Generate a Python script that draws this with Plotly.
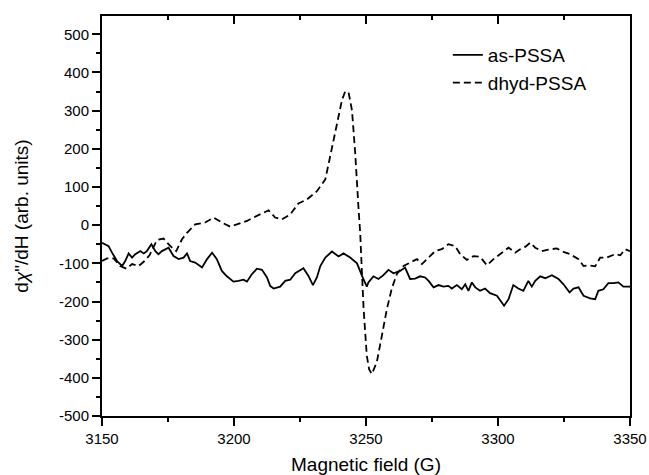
import plotly.graph_objects as go

# Data
as_field = [3150, 3152.5, 3153.8, 3155.7, 3157.6, 3158.8, 3160.1, 3161.4, 3162.6, 3164.5, 3165.8, 3167,
            3168.7, 3170.2, 3171.4, 3172.7, 3175.2, 3177.1, 3179, 3180.9, 3182.2, 3183.4, 3185.3, 3187.9,
            3189.8, 3191.7, 3193.5, 3195.4, 3197.3, 3199.8, 3201.7, 3203.6, 3204.9, 3206.8, 3208.7, 3210.6,
            3212.5, 3213.7, 3215, 3217.5, 3219.4, 3221.3, 3223.2, 3226.3, 3228.2, 3229.9, 3231.4, 3232.7,
            3234.6, 3237.1, 3239.6, 3241.5, 3244, 3246.6, 3248.5, 3250.3, 3250.9, 3252.8, 3254.7, 3256.6,
            3258.5, 3260.4, 3262.9, 3264.8, 3266.7, 3268.6, 3270.5, 3272.4, 3273.7, 3275.6, 3277.5, 3279.3,
            3281.2, 3282.5, 3284.4, 3286.3, 3287.6, 3288.8, 3290.1, 3291.4, 3293.2, 3295.1, 3297, 3299.6,
            3302.3, 3304, 3305.8, 3307.7, 3309.6, 3311.5, 3312.8, 3314.1, 3316, 3317.9, 3320.4, 3322.9,
            3324.8, 3327.1, 3328.6, 3330.5, 3332.4, 3334.9, 3336.8, 3338, 3339.9, 3341.8, 3343.7, 3345.6,
            3347.5, 3350]
as_signal = [-46, -55, -72, -94, -107, -94, -74, -85, -76, -68, -74, -68,
             -50, -68, -76, -68, -59, -81, -89, -85, -74, -94, -98, -111,
             -89, -72, -89, -120, -134, -148, -146, -143, -148, -128, -114, -117,
             -137, -159, -166, -161, -146, -143, -126, -113, -133, -157, -137, -107,
             -85, -69, -82, -74, -85, -100, -133, -161, -150, -134, -141, -131,
             -117, -126, -120, -111, -141, -140, -134, -137, -146, -163, -157, -161,
             -159, -166, -157, -168, -155, -172, -150, -163, -172, -166, -178, -185,
             -211, -194, -157, -166, -172, -146, -161, -146, -134, -139, -131, -141,
             -155, -176, -166, -163, -185, -192, -194, -172, -168, -152, -152, -150,
             -161, -161]

dhyd_field = [3150, 3151.9, 3154.4, 3156.9, 3159.2, 3161.4, 3163.9, 3165.8, 3168, 3170.8, 3173.3, 3175.9,
              3178.1, 3180.3, 3182.2, 3185.3, 3189.1, 3192.3, 3195.4, 3198.6, 3201.1, 3204.9, 3207.4, 3209.9,
              3213.1, 3215.6, 3218.1, 3221.3, 3224.4, 3227.6, 3231.4, 3234.6, 3236.4, 3239, 3240.9, 3242.1,
              3243.4, 3244.7, 3245.9, 3247.2, 3247.8, 3248.5, 3249.1, 3250.3, 3251.2, 3252.2, 3254.1, 3256,
              3257.9, 3259.8, 3261.7, 3264.2, 3266.7, 3269.3, 3271.2, 3273.1, 3276.2, 3278.7, 3281.2, 3283.8,
              3285.7, 3288.2, 3290.7, 3293.2, 3295.8, 3298.3, 3300.8, 3304, 3306.5, 3308.4, 3310.3, 3312.2,
              3314.1, 3316.6, 3319.1, 3322.3, 3324.8, 3327.3, 3330.5, 3332.4, 3334.2, 3336.8, 3338.7, 3341.2,
              3344.4, 3346.3, 3348.2, 3350]
dhyd_signal = [-94, -87, -87, -107, -114, -102, -107, -96, -79, -39, -35, -55,
               -68, -37, -20, 2, 7, 20, 7, -4, 2, 11, 20, 28,
               39, 20, 15, 28, 57, 67, 89, 120, 180, 259, 328, 350,
               348, 300, 190, 40, -20, -130, -220, -342, -378, -390, -359, -290,
               -220, -165, -128, -107, -98, -89, -102, -89, -68, -63, -50, -55,
               -76, -91, -81, -83, -105, -89, -76, -59, -72, -63, -57, -46,
               -59, -68, -64, -61, -70, -76, -89, -107, -105, -108, -85, -85,
               -76, -79, -63, -68]

x_ticks = [3150, 3200, 3250, 3300, 3350]
x_tick_labels = ["3150", "3200", "3250", "3300", "3350"]
y_ticks = [-500, -400, -300, -200, -100, 0, 100, 200, 300, 400, 500]
y_tick_labels = ["-500", "-400", "-300", "-200", "-100", "0", "100", "200", "300", "400", "500"]
x_range = [3150, 3350]
y_range = [-500, 548]

font = "Liberation Sans, Arial, sans-serif"

fig = go.Figure()
fig.add_trace(go.Scatter(x=as_field, y=as_signal, mode="lines", name="as-PSSA",
                         line=dict(color="black", width=1.8)))
fig.add_trace(go.Scatter(x=dhyd_field, y=dhyd_signal, mode="lines", name="dhyd-PSSA",
                         line=dict(color="black", width=1.8, dash="7px,4px")))
fig.add_trace(go.Scatter(x=[], y=[], xaxis="x2", showlegend=False, hoverinfo="skip"))

fig.update_layout(
    width=649, height=475,
    margin=dict(l=102, r=19, t=16, b=59, autoexpand=False),
    paper_bgcolor="white", plot_bgcolor="white",
    font=dict(family=font, color="black", size=15),
    showlegend=True,
    legend=dict(x=0.655, y=0.95, xanchor="left", yanchor="top",
                bgcolor="rgba(0,0,0,0)", font=dict(size=19, family=font),
                tracegroupgap=0),
    xaxis=dict(range=x_range, tickvals=x_ticks, ticktext=x_tick_labels, ticks="outside", ticklen=8,
               tickwidth=1.5, tickcolor="black", showline=True, linecolor="black", linewidth=2, mirror=True,
               showgrid=False, zeroline=False, automargin=False,
               minor=dict(ticks="outside", ticklen=4, tickwidth=1.5, tickcolor="black", dtick=25, showgrid=False),
               title=dict(text="Magnetic field (G)", font=dict(size=19, family=font), standoff=12),
               tickfont=dict(size=15, family=font)),
    xaxis2=dict(range=x_range, overlaying="x", side="top", tickvals=x_ticks, ticks="inside",
                ticklen=8, tickwidth=1.5, tickcolor="black", showticklabels=False,
                showgrid=False, zeroline=False, showline=False, automargin=False,
                minor=dict(ticks="inside", ticklen=4, tickwidth=1.5, tickcolor="black", dtick=25, showgrid=False)),
    yaxis=dict(range=y_range, tickvals=y_ticks, ticktext=y_tick_labels, ticks="outside", ticklen=8,
               tickwidth=1.5, tickcolor="black", showline=True, linecolor="black", linewidth=2, mirror=True,
               showgrid=False, zeroline=False, automargin=False,
               minor=dict(ticks="outside", ticklen=4, tickwidth=1.5, tickcolor="black", dtick=50, showgrid=False),
               title=dict(text="d<i>χ</i>\"/dH (arb. units)", font=dict(size=19, family=font), standoff=25),
               tickfont=dict(size=15, family=font)),
)

# Remove the page's default body margin so the 649x475 figure fills the window exactly.
fig.write_html("out.html", config={"displayModeBar": False},
               post_script="document.body.style.margin='0';document.body.style.overflow='hidden';")
